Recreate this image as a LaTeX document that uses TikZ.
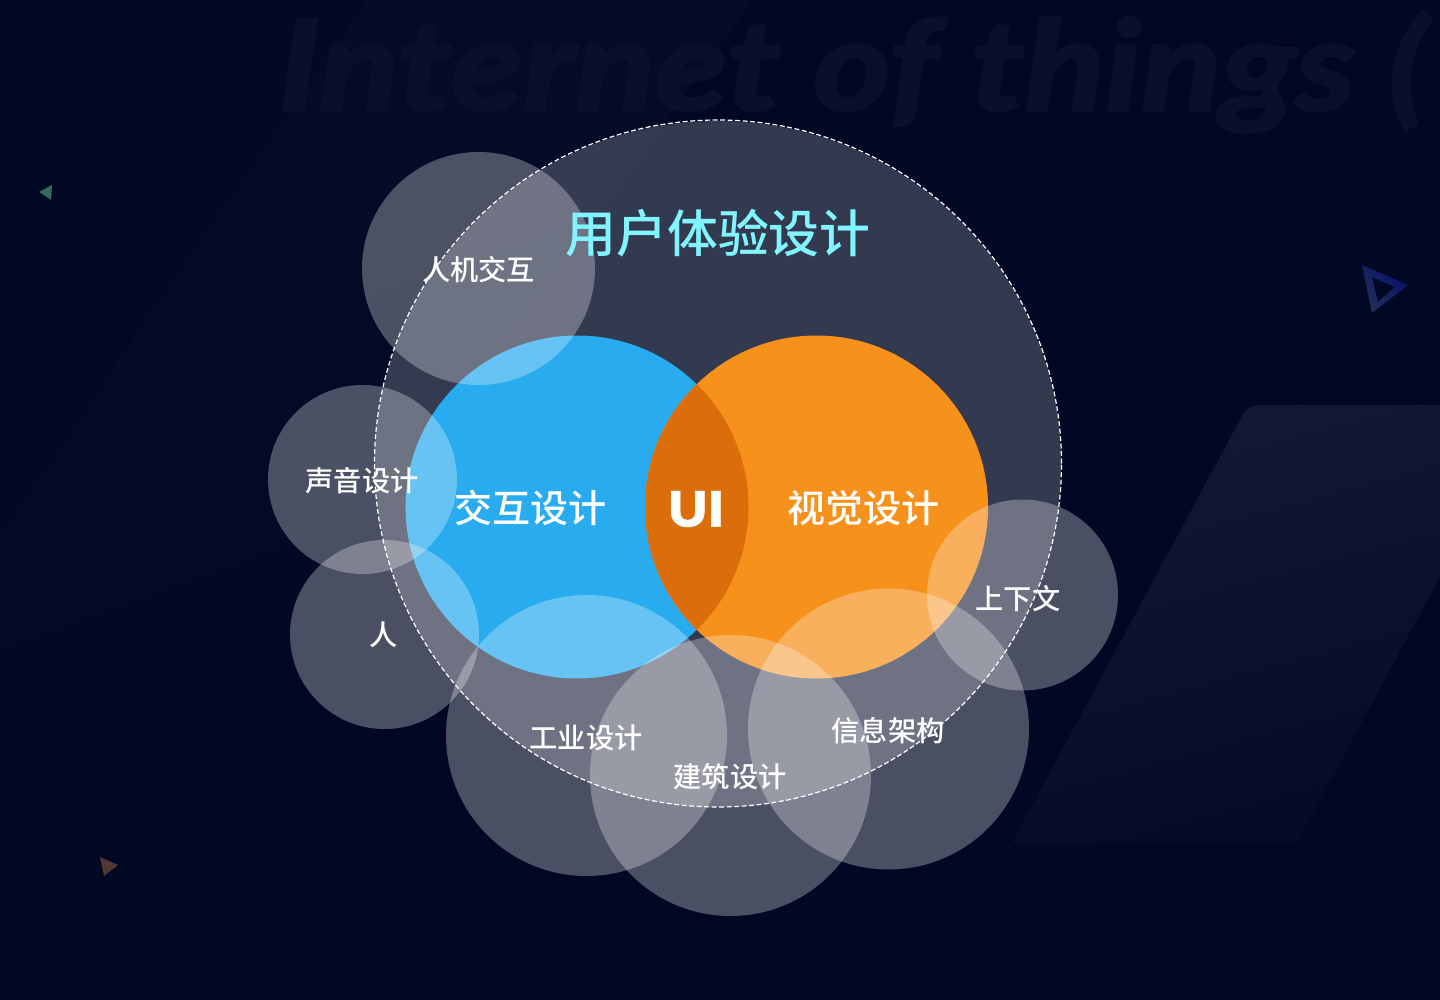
\documentclass[tikz,border=0pt]{standalone}
\usepackage{fontspec}
\setmainfont{Noto Sans CJK SC}
\newfontfamily\cjkm{Noto Sans CJK SC Medium}
\newfontfamily\uifont[FakeStretch=1.08,FakeBold=0.8]{Lato Black}
\newfontfamily\wmfont[FakeStretch=1.185,FakeBold=2.5]{Lato Bold Italic}
\definecolor{bgc}{HTML}{000824}
\definecolor{bluec}{HTML}{29ABEF}
\definecolor{orangec}{HTML}{F6911C}
\definecolor{overlapc}{HTML}{DB6E0A}
\definecolor{titlec}{HTML}{80F5FF}
\definecolor{wmc}{HTML}{0A1029}
\definecolor{trigreen}{HTML}{356B5F}
\definecolor{tribrown}{HTML}{54372F}
\definecolor{triblueA}{HTML}{232F58}
\definecolor{triblueB}{HTML}{071270}
\tikzset{
  x=1pt,y=-1pt,
  disc/.style={circle,inner sep=0pt,outer sep=0pt,minimum size=#1},
  whitedisc/.style={disc=#1,fill=white,fill opacity=0.29},
  lbl/.style={text=white,inner sep=0pt,font=\cjkm\fontsize{28.2}{32}\selectfont},
  midlbl/.style={text=white,inner sep=0pt,font=\cjkm\fontsize{38}{42}\selectfont},
}
\begin{document}
\begin{tikzpicture}
\useasboundingbox (0,0) rectangle (1440,1000);
\fill[bgc] (0,0) rectangle (1440,1000);
\begin{scope}
\clip (0,0) rectangle (1440,1000);
% faint background bands
\shade[top color=bgc!98.5!white,bottom color=bgc,shading angle=20]
  (367,0) -- (753,0) -- (130,860) -- (0,860) -- (0,530) -- cycle;
\shade[top color=bgc!99.5!white,bottom color=bgc,shading angle=20]
  (266,0) -- (367,0) -- (0,530) -- cycle;
\shade[top color=bgc!93!white,bottom color=bgc!99!white,shading angle=15]
  (1012,843) [rounded corners=10pt] -- (1248,405) [sharp corners] -- (1532,405) -- (1297,843) -- cycle;
\node[anchor=base west,inner sep=0pt,text=wmc,font=\wmfont\fontsize{125}{130}\selectfont] (wm) at (278,110) {Internet of things (};
\end{scope}
% small triangles
\fill[trigreen] (39,192) -- (52,185) -- (51,200) -- cycle;
\fill[tribrown] (100,857) -- (118,865) -- (104,876) -- cycle;
\shade[even odd rule,left color=triblueA,right color=triblueB,shading angle=135]
  (1362,265) -- (1408,285) -- (1372,313) -- cycle
  (1372,277) -- (1395,287) -- (1378,302) -- cycle;
% big circle
\node[disc=686pt,fill=white,fill opacity=0.2] (ux) at (718,464) {};
% main circles
\node[disc=343pt,fill=bluec] (ix) at (577,507) {};
\node[disc=343pt,fill=orangec] (vd) at (816.5,507) {};
\begin{scope}
\clip (577,507) circle (171.5);
\fill[overlapc] (816.5,507) circle (171.5);
\end{scope}
% white circles
\node[whitedisc=233pt] (c1) at (478.5,268.5) {};
\node[whitedisc=189pt] (c2) at (362.5,479.5) {};
\node[whitedisc=189pt] (c3) at (384.5,634.5) {};
\node[whitedisc=281pt] (c4) at (586.5,735.5) {};
\node[whitedisc=281pt] (c5) at (730.5,775.5) {};
\node[whitedisc=281pt] (c6) at (888.5,729) {};
\node[whitedisc=191pt] (c7) at (1022.5,595) {};
% dashed outline
\node[disc=687pt,draw=white,line width=1.2pt,dash pattern=on 5pt off 2.5pt] (uxo) at (718,463.5) {};
% labels
\node[text=titlec,inner sep=0pt,font=\cjkm\fontsize{50.8}{56}\selectfont] (t0) at (718,233) {用户体验设计};
\node[midlbl] (t1) at (530,508) {交互设计};
\node[midlbl] (t2) at (863,508) {视觉设计};
\node[text=white,inner sep=0pt,font=\uifont\fontsize{49}{54}\selectfont] (t3) at (696,509) {UI};
\node[lbl] (t4) at (478.5,270) {人机交互};
\node[lbl] (t5) at (362,481) {声音设计};
\node[lbl] (t6) at (384,635) {人};
\node[lbl] (t7) at (1018,599) {上下文};
\node[lbl] (t8) at (586,738) {工业设计};
\node[lbl] (t9) at (730,777) {建筑设计};
\node[lbl] (t10) at (888,731) {信息架构};
\end{tikzpicture}
\end{document}
